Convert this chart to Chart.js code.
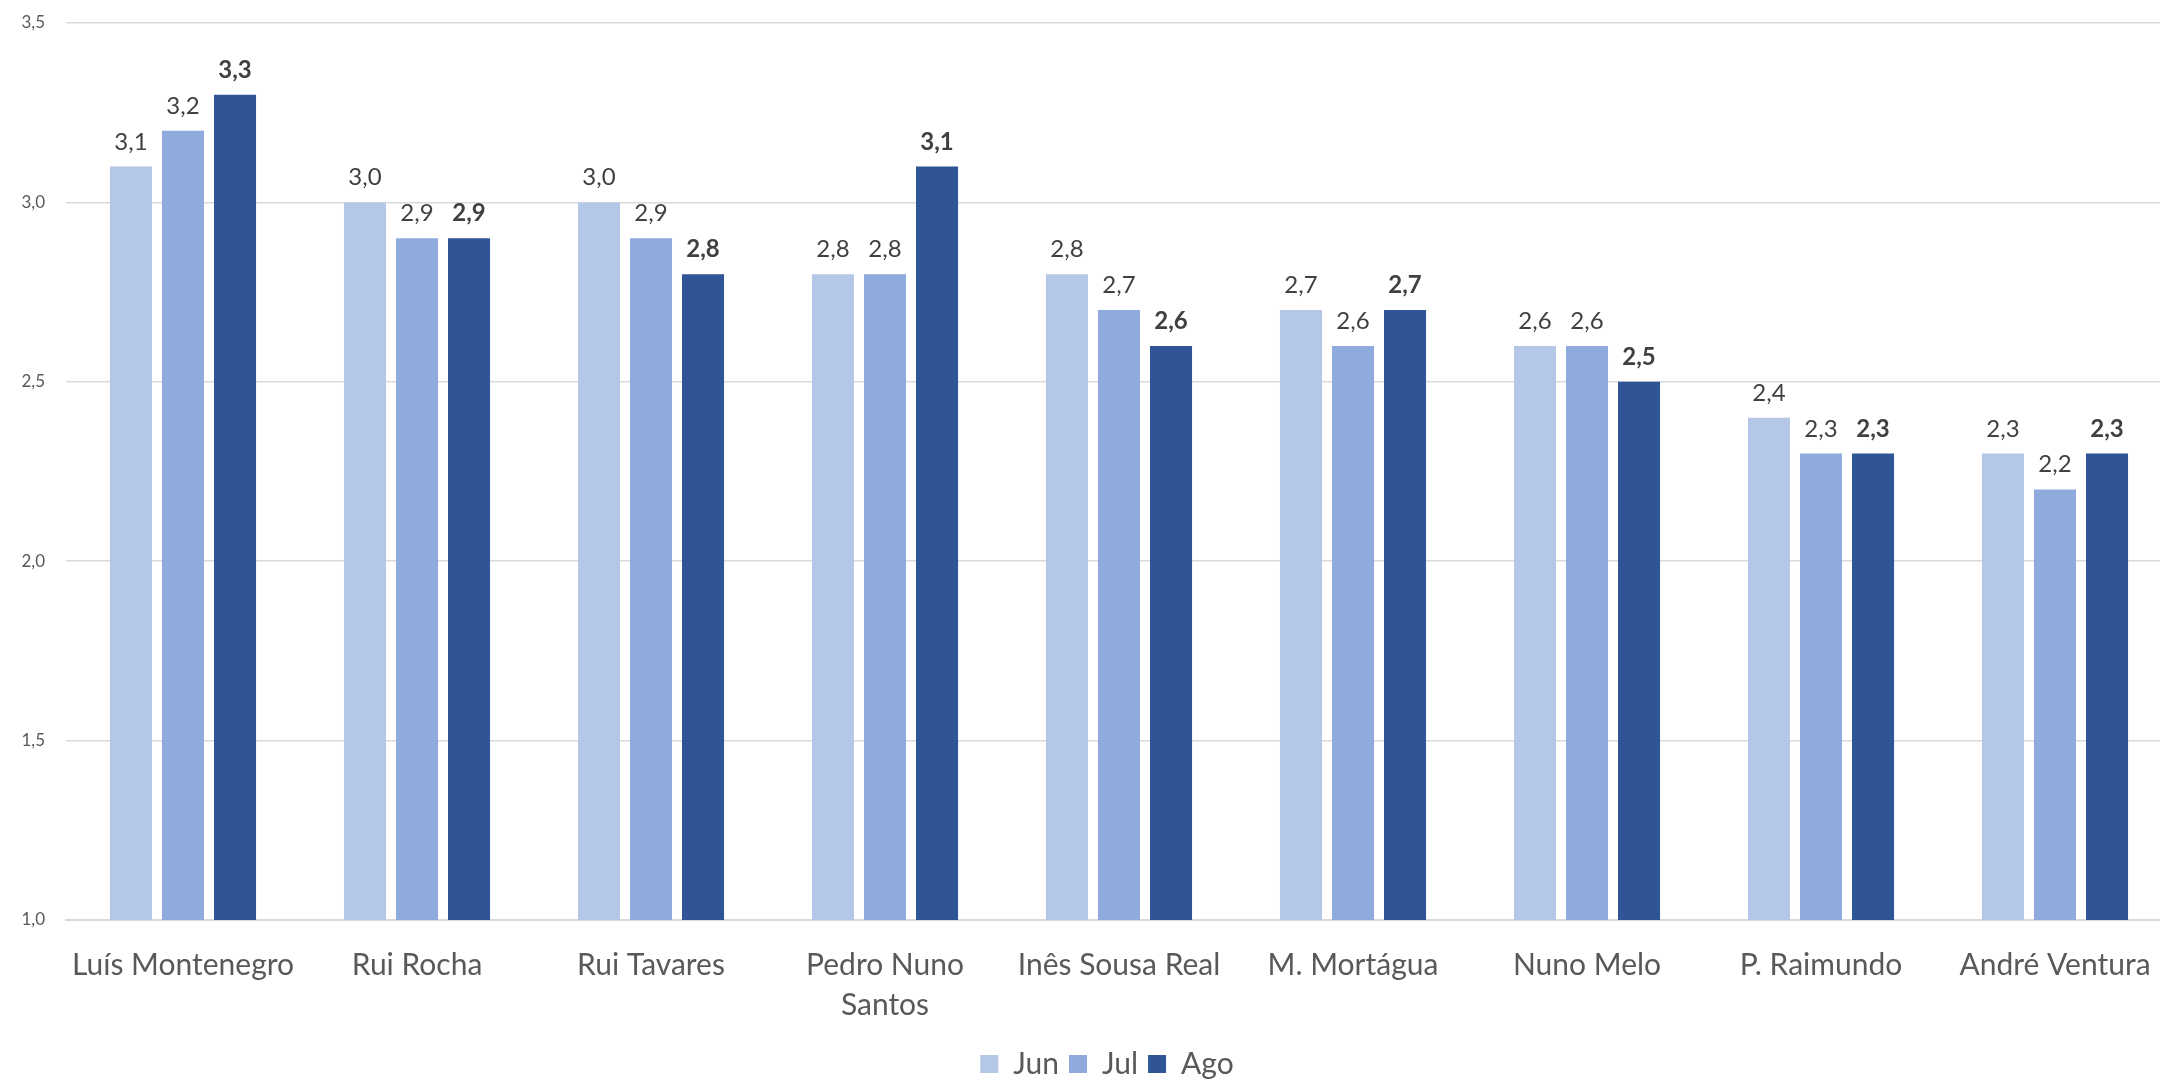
<!DOCTYPE html>
<html>
<head>
    <title>Avaliação dos líderes</title>
    <script src="https://cdn.jsdelivr.net/npm/chart.js"></script>
    <style>
        html, body {
            margin: 0;
            padding: 0;
            background-color: white;
            overflow: hidden;
        }

        #wrap {
            width: 2160px;
            height: 1079px;
            overflow: hidden;
        }
    </style>
</head>
<body>
    <div id="wrap">
        <canvas id="leaderChart" width="2172" height="1089"></canvas>
    </div>

    <script>
    // categories and series
    const leaders = ['Luís Montenegro', 'Rui Rocha', 'Rui Tavares', ['Pedro Nuno', 'Santos'], 'Inês Sousa Real',
                     'M. Mortágua', 'Nuno Melo', 'P. Raimundo', 'André Ventura'];
    const months = ['Jun', 'Jul', 'Ago'];
    const junValues = [3.1, 3.0, 3.0, 2.8, 2.8, 2.7, 2.6, 2.4, 2.3];
    const julValues = [3.2, 2.9, 2.9, 2.8, 2.7, 2.6, 2.6, 2.3, 2.2];
    const agoValues = [3.3, 2.9, 2.8, 3.1, 2.6, 2.7, 2.5, 2.3, 2.3];
    const monthColors = ['#B4C7E7', '#8FAADC', '#2F5597'];

    const fontFamily = 'Lato, "Open Sans", sans-serif';
    const fmt = v => v.toFixed(1).replace('.', ',');

    // value labels above each bar, last month in bold
    const barLabels = {
        id: 'barLabels',
        afterDatasetsDraw(chart) {
            const ctx = chart.ctx;
            ctx.save();
            ctx.fillStyle = '#404040';
            ctx.textAlign = 'center';
            ctx.textBaseline = 'alphabetic';
            chart.data.datasets.forEach((ds, i) => {
                const meta = chart.getDatasetMeta(i);
                ctx.font = (i === 2 ? 'bold ' : '') + '24px ' + fontFamily;
                meta.data.forEach((bar, j) => {
                    ctx.fillText(fmt(ds.data[j]), bar.x, bar.y - 17);
                });
            });
            ctx.restore();
        }
    };

    // legend sits a bit right of the canvas centre in the original
    const legendShift = {
        id: 'legendShift',
        afterLayout(chart) {
            chart.legend.left += 21;
            chart.legend.right += 21;
        }
    };

    new Chart(document.getElementById('leaderChart'), {
        type: 'bar',
        data: {
            labels: leaders,
            datasets: [
                { label: months[0], data: junValues, backgroundColor: monthColors[0] },
                { label: months[1], data: julValues, backgroundColor: monthColors[1] },
                { label: months[2], data: agoValues, backgroundColor: monthColors[2] }
            ]
        },
        options: {
            responsive: false,
            animation: false,
            categoryPercentage: 0.667,
            barPercentage: 0.808,
            layout: {
                padding: { top: 23, left: 0, right: 0, bottom: 0 }
            },
            plugins: {
                tooltip: { enabled: false },
                legend: {
                    position: 'bottom',
                    labels: {
                        boxWidth: 18,
                        boxHeight: 18,
                        padding: 10,
                        color: '#595959',
                        font: { family: fontFamily, size: 30 }
                    }
                }
            },
            scales: {
                x: {
                    grid: { display: false },
                    border: { display: true, color: '#D9D9D9', width: 2 },
                    ticks: {
                        color: '#595959',
                        padding: 17,
                        maxRotation: 0,
                        autoSkip: false,
                        font: { family: fontFamily, size: 30, lineHeight: 1.33 }
                    },
                    afterFit(scale) { scale.height = 119; }
                },
                y: {
                    min: 1,
                    max: 3.5,
                    grid: { color: '#D9D9D9', lineWidth: 1.5, drawTicks: false },
                    border: { display: false },
                    ticks: {
                        stepSize: 0.5,
                        color: '#595959',
                        padding: 21,
                        font: { family: fontFamily, size: 17 },
                        callback: v => fmt(v)
                    },
                    afterFit(scale) {
                        scale.width = 66;
                        scale.paddingTop = 0;
                        scale.paddingBottom = 0;
                    }
                }
            }
        },
        plugins: [barLabels, legendShift]
    });
    </script>
</body>
</html>
